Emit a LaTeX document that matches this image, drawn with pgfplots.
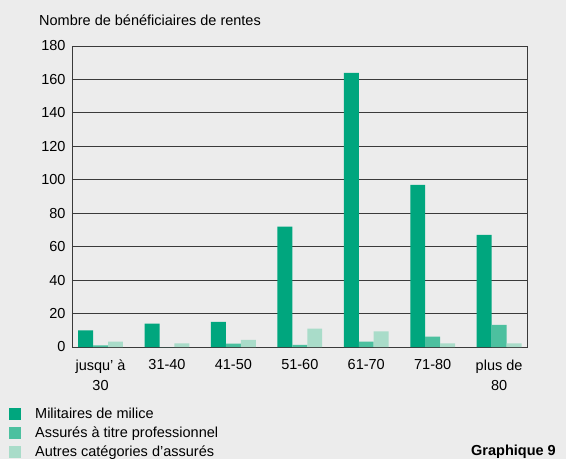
\documentclass[border=0pt]{standalone}
\usepackage{pgfplots}
\pgfplotsset{compat=1.18}
\usepackage{fontspec}
\setmainfont{Liberation Sans}
\definecolor{bg}{HTML}{ECECEC}
\definecolor{milice}{HTML}{00A67E}
\definecolor{prof}{HTML}{4CC09F}
\definecolor{autres}{HTML}{A9DCC9}
\definecolor{linecol}{HTML}{3A3A3A}
\newcommand{\lbl}{\fontsize{14.5}{20}\selectfont}
\begin{document}
\begin{tikzpicture}[x=1pt,y=1pt]
\fill[bg] (0,0) rectangle (566,459);
\useasboundingbox (0,0) rectangle (566,459);
\begin{axis}[
    at={(72pt,112pt)}, anchor=south west,
    width=455pt, height=301pt, scale only axis,
    ymin=0, ymax=180, ytick={0,20,...,180},
    xmin=-0.43, xmax=6.42,
    xtick={0,...,6},
    xticklabels={{jusqu’ à\\30},31-40,41-50,51-60,61-70,71-80,{plus de\\80}},
    xticklabel style={align=center, font=\lbl, yshift=-9pt},
    yticklabel style={font=\lbl, xshift=-3pt},
    /pgf/number format/assume math mode=true,
    major tick length=0pt,
    ymajorgrids, grid style={linecol, line width=0.8pt},
    axis line style={linecol, line width=0.8pt},
    ybar, bar width=0.225,
    legend cell align=left,
    legend style={at={(axis description cs:-0.1385,-0.197)}, anchor=north west,
        draw=none, fill=none, font=\lbl, inner sep=0pt, row sep=5pt,
        nodes={inner sep=1pt}},
    legend image code/.code={\fill[#1] (0pt,-6pt) rectangle (12pt,6pt);},
]
\addplot[fill=milice, draw=none, bar shift=-0.225] coordinates {(0,10)(1,14)(2,15)(3,72)(4,164)(5,97)(6,67)};
\addlegendentry{\hspace{13pt}Militaires de milice}
\addplot[fill=prof, draw=none, bar shift=0] coordinates {(0,1)(1,0)(2,2)(3,1.3)(4,3.2)(5,6.2)(6,13.2)};
\addlegendentry{\hspace{13pt}Assurés à titre professionnel}
\addplot[fill=autres, draw=none, bar shift=0.225] coordinates {(0,3.2)(1,2.2)(2,4.2)(3,11)(4,9.4)(5,2.2)(6,2.2)};
\addlegendentry{\hspace{13pt}Autres catégories d’assurés}
\end{axis}
\node[anchor=base west, font=\lbl, inner sep=0pt] at (39,433) {Nombre de bénéficiaires de rentes};
\node[anchor=base east, font=\lbl\bfseries, inner sep=0pt] at (556,4) {Graphique 9};
\end{tikzpicture}
\end{document}
